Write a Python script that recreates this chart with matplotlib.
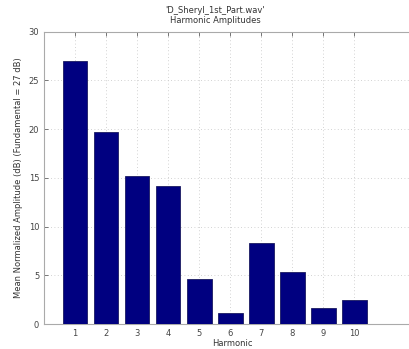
import matplotlib
matplotlib.use("Agg")
import matplotlib.pyplot as plt

harmonics = [1, 2, 3, 4, 5, 6, 7, 8, 9, 10]
amplitudes = [27.0, 19.7, 15.2, 14.2, 4.6, 1.1, 8.3, 5.3, 1.6, 2.5]
yticks = [0, 5, 10, 15, 20, 25, 30]

fig = plt.figure(figsize=(4.09, 3.49), dpi=100)
ax = fig.add_axes([0.1076, 0.0716, 0.92, 0.838])

ax.bar(harmonics, amplitudes, width=0.8, color="#000080", edgecolor="#1a1a60", linewidth=0.6, zorder=3)

# axis runs past the right edge, so no right spine shows
ax.set_xlim(0, 12.13)
ax.set_ylim(0, 30)
ax.set_xticks(harmonics)
ax.set_yticks(yticks)
ax.tick_params(direction="in", top=True, length=3, labelsize=6, colors="#444444", width=0.5)

# dotted grid like the matlab style
ax.grid(True, linestyle=(0, (1, 3)), color="#c4c4c4", linewidth=0.6, zorder=0)

for s in ["left", "bottom", "top"]:
    ax.spines[s].set_color("#aaaaaa")
    ax.spines[s].set_linewidth(0.8)
ax.spines["right"].set_visible(False)

ax.set_xlabel("Harmonic", fontsize=6, color="#333333", labelpad=1)
ax.set_ylabel("Mean Normalized Amplitude (dB) (Fundamental = 27 dB)", fontsize=6, color="#333333", labelpad=4)
fig.text(0.527, 0.955, "'D_Sheryl_1st_Part.wav'\nHarmonic Amplitudes", ha="center", va="center",
         fontsize=6, color="#333333", linespacing=1.15)

fig.savefig("out.png", dpi=100)
